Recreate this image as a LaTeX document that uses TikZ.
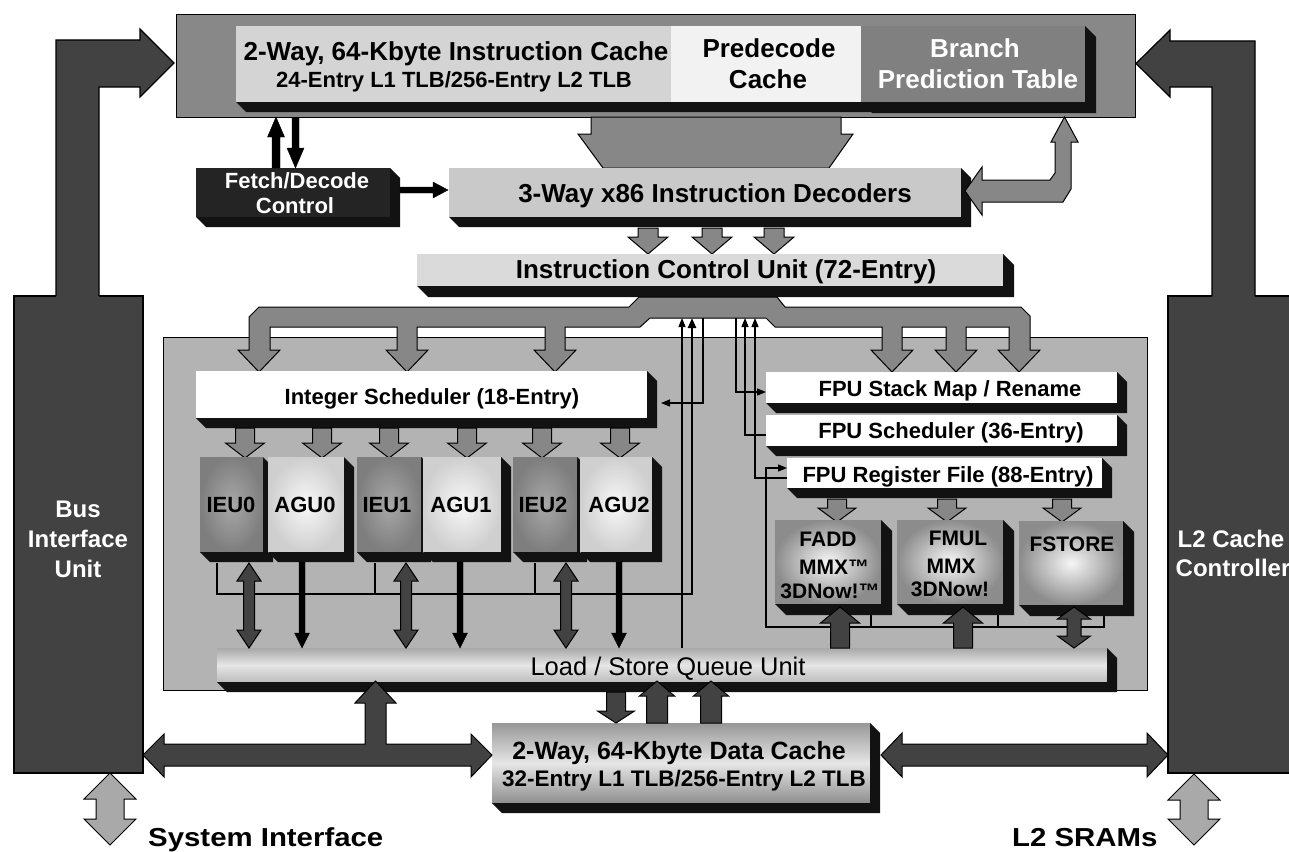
\documentclass[tikz,border=0pt]{standalone}
\usepackage{fontspec}
\setmainfont{Liberation Sans}
\usetikzlibrary{calc,arrows.meta}
\definecolor{cgroup}{HTML}{888888}
\definecolor{cic}{HTML}{D4D4D4}
\definecolor{cpre}{HTML}{F2F2F2}
\definecolor{cbpt}{HTML}{808080}
\definecolor{cfetch}{HTML}{242424}
\definecolor{cdec}{HTML}{C9C9C9}
\definecolor{cicu}{HTML}{DADADA}
\definecolor{ccore}{HTML}{B3B3B3}
\definecolor{cbus}{HTML}{878787}
\definecolor{cdark}{HTML}{424242}
\definecolor{cext}{HTML}{121212}
\definecolor{clight}{HTML}{A9A9A9}
\definecolor{cieuin}{HTML}{A8A8A8}
\definecolor{cieuout}{HTML}{7E7E7E}
\definecolor{caguin}{HTML}{F8F8F8}
\definecolor{caguout}{HTML}{CFCFCF}
\definecolor{cfpin}{HTML}{F6F6F6}
\definecolor{cfpout}{HTML}{8C8C8C}
\definecolor{clsqa}{HTML}{A8A8A8}
\definecolor{clsqb}{HTML}{E6E6E6}
\definecolor{clsqc}{HTML}{BDBDBD}

\newcommand\extr[2][10]{\fill[cext] (#2.south west) -- ++(#1,#1) -- ($(#2.south east)+(#1,#1)$) -- ($(#2.north east)+(#1,#1)$) -- (#2.north east) -- (#2.south east) -- cycle;}
% vertical arrow, tip below
\newcommand\arrdn[7]{\filldraw[#7] ({#1-(#4)/2},#2) -- ({#1+(#4)/2},#2) -- ({#1+(#4)/2},{#3-(#6)}) -- ({#1+(#5)/2},{#3-(#6)}) -- (#1,#3) -- ({#1-(#5)/2},{#3-(#6)}) -- ({#1-(#4)/2},{#3-(#6)}) -- cycle;}
% vertical arrow, tip above
\newcommand\arrup[7]{\filldraw[#7] ({#1-(#4)/2},#2) -- ({#1+(#4)/2},#2) -- ({#1+(#4)/2},{#3+(#6)}) -- ({#1+(#5)/2},{#3+(#6)}) -- (#1,#3) -- ({#1-(#5)/2},{#3+(#6)}) -- ({#1-(#4)/2},{#3+(#6)}) -- cycle;}
% vertical double arrow
\newcommand\arrud[7]{\filldraw[#7] (#1,#2) -- ({#1+(#5)/2},{#2+(#6)}) -- ({#1+(#4)/2},{#2+(#6)}) -- ({#1+(#4)/2},{#3-(#6)}) -- ({#1+(#5)/2},{#3-(#6)}) -- (#1,#3) -- ({#1-(#5)/2},{#3-(#6)}) -- ({#1-(#4)/2},{#3-(#6)}) -- ({#1-(#4)/2},{#2+(#6)}) -- ({#1-(#5)/2},{#2+(#6)}) -- cycle;}
% horizontal arrow to the right
\newcommand\arrrt[7]{\filldraw[#7] (#2,{#1-(#4)/2}) -- ({#3-(#6)},{#1-(#4)/2}) -- ({#3-(#6)},{#1-(#5)/2}) -- (#3,#1) -- ({#3-(#6)},{#1+(#5)/2}) -- ({#3-(#6)},{#1+(#4)/2}) -- (#2,{#1+(#4)/2}) -- cycle;}
% horizontal double arrow
\newcommand\arrlr[7]{\filldraw[#7] (#2,#1) -- ({#2+(#6)},{#1-(#5)/2}) -- ({#2+(#6)},{#1-(#4)/2}) -- ({#3-(#6)},{#1-(#4)/2}) -- ({#3-(#6)},{#1-(#5)/2}) -- (#3,#1) -- ({#3-(#6)},{#1+(#5)/2}) -- ({#3-(#6)},{#1+(#4)/2}) -- ({#2+(#6)},{#1+(#4)/2}) -- ({#2+(#6)},{#1+(#5)/2}) -- cycle;}

\begin{document}
\begin{tikzpicture}[x=1pt,y=-1pt,
  face/.style={anchor=north west, inner sep=0pt, outer sep=0pt, draw=none},
  tb/.style={inner sep=0pt, anchor=base, font={\fontsize{#1}{#1}\selectfont\bfseries}},
  tr/.style={inner sep=0pt, anchor=base, font={\fontsize{#1}{#1}\selectfont}},
  blkg/.style={fill=cbus, draw=black, line width=1pt, line join=miter},
  blkd/.style={fill=cdark, draw=black, line width=1pt, line join=miter},
  blkb/.style={fill=black, draw=black, line width=0.4pt, line join=miter},
  blkl/.style={fill=clight, draw=black, line width=1pt, line join=miter},
  wire/.style={line width=1.2pt},
  tip/.style={-{Triangle[length=9pt,width=7pt]}}]
\useasboundingbox (0,0) rectangle (1289,851);
\clip (0,0) rectangle (1289,851);
\fill[white] (0,0) rectangle (1289,851);

% ---------- core area ----------
\node[face, draw=black, line width=1pt, fill=ccore, minimum width=984pt, minimum height=353pt] (core) at (163,337) {};

% ---------- side units ----------
\node[face, draw=black, line width=1.2pt, fill=cdark, minimum width=129pt, minimum height=477pt] (biu) at (14,296) {};
\node[face, draw=black, line width=1.2pt, fill=cdark, minimum width=140pt, minimum height=477pt] (l2c) at (1168,296) {};
\fill[cdark] (56,298) -- (56,40) -- (140,40) -- (140,29) -- (174,63) -- (140,97) -- (140,87) -- (99,87) -- (99,298) -- cycle;
\draw[line width=1.2pt, line join=miter] (56,296) -- (56,40) -- (140,40) -- (140,29) -- (174,63) -- (140,97) -- (140,87) -- (99,87) -- (99,296);
\fill[cdark] (1255,298) -- (1255,41) -- (1170,41) -- (1170,30) -- (1136,63.5) -- (1170,97) -- (1170,87) -- (1212,87) -- (1212,298) -- cycle;
\draw[line width=1.2pt, line join=miter] (1255,296) -- (1255,41) -- (1170,41) -- (1170,30) -- (1136,63.5) -- (1170,97) -- (1170,87) -- (1212,87) -- (1212,296);

% ---------- instruction cache group ----------
\node[face, draw=black, line width=1pt, fill=cgroup, minimum width=959pt, minimum height=102pt] (grp) at (176,15) {};
\node[face, fill=cic, minimum width=435pt, minimum height=76pt] (icache) at (236,26) {};
\extr{icache}
\node[face, fill=cpre, minimum width=190pt, minimum height=76pt] (pre) at (671,26) {};
\extr{pre}
\node[face, fill=cbpt, minimum width=224pt, minimum height=76pt] (bpt) at (861,26) {};
\extr[11]{bpt}

% trapezoid to decoders
\filldraw[blkg] (591,117) -- (841,117) -- (841,134) -- (853,134) -- (829,168) -- (603,168) -- (578,134) -- (591,134) -- cycle;

% fetch / decode
\node[face, fill=cfetch, minimum width=194pt, minimum height=49pt] (fetch) at (196,168) {};
\extr{fetch}
\node[face, fill=cdec, minimum width=512pt, minimum height=49pt] (dec) at (449,168) {};
\extr{dec}
\arrup{276}{168}{117}{8}{17}{20}{blkb}
\arrdn{295.5}{118}{168}{7}{17}{20}{blkb}
\arrrt{190}{400}{448}{6}{16}{15}{blkb}

% branch double arrow
\filldraw[blkg] (965,191) -- (982,167) -- (982,180) -- (1050,180) -- (1055,173) -- (1055,142) -- (1051,142) -- (1064.5,117) -- (1078,142) -- (1071,142) -- (1071,189) -- (1063,202) -- (982,202) -- (982,215) -- cycle;

% decoders -> ICU
\arrdn{648}{228}{254}{20}{40}{17}{blkg}
\arrdn{712}{228}{254}{20}{40}{17}{blkg}
\arrdn{774}{228}{254}{20}{40}{17}{blkg}
\node[face, fill=cicu, minimum width=586pt, minimum height=32pt] (icu) at (417,254) {};
\extr[11]{icu}

% ICU dispatch bus
\filldraw[blkg] (639,297) -- (777,297) -- (785,307) -- (1021,307) -- (1030,316) -- (1030,350) -- (1040,350) -- (1019,372) -- (998,350) -- (1009,350) -- (1009,327) -- (966,327) -- (966,350) -- (977,350) -- (956,372) -- (935,350) -- (946,350) -- (946,327) -- (902,327) -- (902,350) -- (913,350) -- (892,372) -- (871,350) -- (882,350) -- (882,327) -- (775,327) -- (766,318) -- (650,318) -- (640,327) -- (565,327) -- (565,350) -- (576,350) -- (555,372) -- (534,350) -- (545,350) -- (545,327) -- (417,327) -- (417,350) -- (428,350) -- (407,372) -- (386,350) -- (397,350) -- (397,327) -- (270,327) -- (270,350) -- (280,350) -- (259,372) -- (238,350) -- (249,350) -- (249,317) -- (259,307) -- (629,307) -- cycle;

% integer side
\node[face, fill=white, minimum width=451pt, minimum height=47pt] (isched) at (196,371) {};
\extr{isched}
\foreach \xx in {245,322,389,467,542,620} {\arrdn{\xx}{428}{458}{19}{39}{15}{blkg}}
\node[face, shade, inner color=cieuin, outer color=cieuout, minimum width=63pt, minimum height=95pt] (ieu0) at (200,457) {};
\extr{ieu0}
\node[face, shade, inner color=caguin, outer color=caguout, minimum width=76pt, minimum height=95pt] (agu0) at (268,457) {};
\extr{agu0}
\node[face, shade, inner color=cieuin, outer color=cieuout, minimum width=64pt, minimum height=95pt] (ieu1) at (357,457) {};
\extr{ieu1}
\node[face, shade, inner color=caguin, outer color=caguout, minimum width=78pt, minimum height=95pt] (agu1) at (423,457) {};
\extr{agu1}
\node[face, shade, inner color=cieuin, outer color=cieuout, minimum width=64pt, minimum height=95pt] (ieu2) at (513,457) {};
\extr{ieu2}
\node[face, shade, inner color=caguin, outer color=caguout, minimum width=72pt, minimum height=95pt] (agu2) at (580,457) {};
\extr{agu2}

% FPU side
\node[face, fill=white, minimum width=351pt, minimum height=31pt] (fmap) at (766,372) {};
\extr{fmap}
\node[face, fill=white, minimum width=351pt, minimum height=31pt] (fsch) at (766,415) {};
\extr{fsch}
\node[face, fill=white, minimum width=315pt, minimum height=30pt] (freg) at (787,458) {};
\extr{freg}
\arrdn{837}{499}{522}{19}{38}{14}{blkg}
\arrdn{947}{499}{522}{19}{38}{14}{blkg}
\arrdn{1062}{499}{522}{19}{38}{14}{blkg}
\node[face, shade, inner color=cfpin, outer color=cfpout, minimum width=106pt, minimum height=84pt] (fadd) at (775,520) {};
\extr[11]{fadd}
\node[face, shade, inner color=cfpin, outer color=cfpout, minimum width=106pt, minimum height=84pt] (fmul) at (897,520) {};
\extr[11]{fmul}
\node[face, shade, inner color=cfpin, outer color=cfpout, minimum width=104pt, minimum height=84pt] (fsto) at (1019,521) {};
\extr[11]{fsto}

% thin wires
\draw[wire] (217,563) -- (217,594) -- (692,594);
\draw[wire] (375,563) -- (375,594);
\draw[wire] (535,563) -- (535,594);
\draw[line width=2.4pt, -{Triangle[length=10pt,width=8pt]}] (692,595) -- (692,318);
\draw[wire, tip] (682,648) -- (682,318);
\draw[wire, tip] (703,318) -- (703,403) -- (661,403);
\draw[wire, tip] (736,318) -- (736,392) -- (766,392);
\draw[wire, tip] (766,435) -- (745,435) -- (745,318);
\draw[wire, tip] (787,478) -- (755,478) -- (755,318);
\draw[wire] (871,615) -- (871,627);
\draw[wire] (998,615) -- (998,627);
\draw[wire, tip] (1104,616) -- (1104,627) -- (766,627) -- (766,468) -- (787,468);

% load/store queue and data cache
\node[face, top color=clsqa, bottom color=clsqc, middle color=clsqb, minimum width=890pt, minimum height=34pt] (lsq) at (217,648) {};
\extr{lsq}
\node[face, top color=clsqa!90!black, bottom color=clsqa!85!black, middle color=clsqb, minimum width=378pt, minimum height=80pt] (dc) at (492,723) {};
\extr{dc}

\arrud{249}{563}{648}{11}{24}{18}{blkd}
\arrud{406}{563}{648}{11}{24}{18}{blkd}
\arrud{566}{563}{648}{11}{24}{18}{blkd}
\arrdn{302}{562}{648}{6}{15}{15}{blkb}
\arrdn{460}{562}{648}{6}{15}{15}{blkb}
\arrdn{619}{562}{648}{6}{15}{15}{blkb}

\arrup{840}{648}{607}{19}{39}{16}{blkd}
\arrup{963}{648}{607}{19}{39}{16}{blkd}
\arrud{1074}{607}{648}{14}{33}{12}{blkd}

\arrdn{616}{692}{723}{19}{37}{12}{blkd}
\arrup{657}{723}{681}{21}{35}{15}{blkd}
\arrup{711}{723}{681}{21}{35}{15}{blkd}

\filldraw[blkd] (143,755) -- (164,734) -- (164,744) -- (365,744) -- (365,703) -- (355,703) -- (375.5,681) -- (396,703) -- (386,703) -- (386,744) -- (471,744) -- (471,734) -- (492,755) -- (471,777) -- (471,766) -- (164,766) -- (164,777) -- cycle;
\arrlr{755}{881}{1168}{22}{44}{21}{blkd}
\arrud{110}{773}{845}{28}{52}{26}{blkl}
\arrud{1194}{774}{845}{28}{52}{26}{blkl}

% ---------- texts ----------
\node[tb=26] (ict1) at (456,60) {2-Way, 64-Kbyte Instruction Cache};
\node[tb=22] (ict2) at (454,87) {24-Entry L1 TLB/256-Entry L2 TLB};
\node[tb=26] (pret1) at (769,58) {Predecode};
\node[tb=26] (pret2) at (768,88) {Cache};
\node[tb=26, text=white] (bpt1) at (975,58) {Branch};
\node[tb=26, text=white] (bpt2) at (978,88) {Prediction Table};
\node[tb=22, text=white] (fet1) at (297,188) {Fetch/Decode};
\node[tb=22, text=white] (fet2) at (295,213) {Control};
\node[tb=26] (dect) at (715,202) {3-Way x86 Instruction Decoders};
\node[tb=26] (icut) at (726,278) {Instruction Control Unit (72-Entry)};
\node[tb=22] (isct) at (432,404) {Integer Scheduler (18-Entry)};
\node[tb=22] (ieu0t) at (231,512) {IEU0};
\node[tb=22] (agu0t) at (305,512) {AGU0};
\node[tb=22] (ieu1t) at (387,512) {IEU1};
\node[tb=22] (agu1t) at (461,512) {AGU1};
\node[tb=22] (ieu2t) at (543,512) {IEU2};
\node[tb=22] (agu2t) at (619,512) {AGU2};
\node[tb=22] (fmapt) at (950,396) {FPU Stack Map / Rename};
\node[tb=22] (fscht) at (951,438) {FPU Scheduler (36-Entry)};
\node[tb=22] (fregt) at (948,482) {FPU Register File (88-Entry)};
\node[tb=21] (fadd1) at (828,546) {FADD};
\node[tb=21] (fadd2) at (834,574) {MMX™};
\node[tb=21] (fadd3) at (830,598) {3DNow!™};
\node[tb=21] (fmul1) at (958,545) {FMUL};
\node[tb=21] (fmul2) at (951,573) {MMX};
\node[tb=21] (fmul3) at (950,596) {3DNow!};
\node[tb=21] (fstot) at (1072,551) {FSTORE};
\node[tr=25.5] (lsqt) at (668,675) {Load / Store Queue Unit};
\node[tb=25] (dct1) at (679,759) {2-Way, 64-Kbyte Data Cache};
\node[tb=22.5] (dct2) at (684,786) {32-Entry L1 TLB/256-Entry L2 TLB};
\node[tb=24, text=white] (biu1) at (78,517) {Bus};
\node[tb=24, text=white] (biu2) at (78,547) {Interface};
\node[tb=24, text=white] (biu3) at (78,577) {Unit};
\node[tb=24, text=white] (l2c1) at (1231,547) {L2 Cache};
\node[tb=24, text=white] (l2c2) at (1233,576) {Controller};
\node[tb=26, anchor=base west] (sysi) at (148,846) {\scalebox{1.13}[1]{System Interface}};
\node[tb=26, anchor=base west] (sram) at (1012,846) {\scalebox{1.13}[1]{L2 SRAMs}};
\end{tikzpicture}
\end{document}
